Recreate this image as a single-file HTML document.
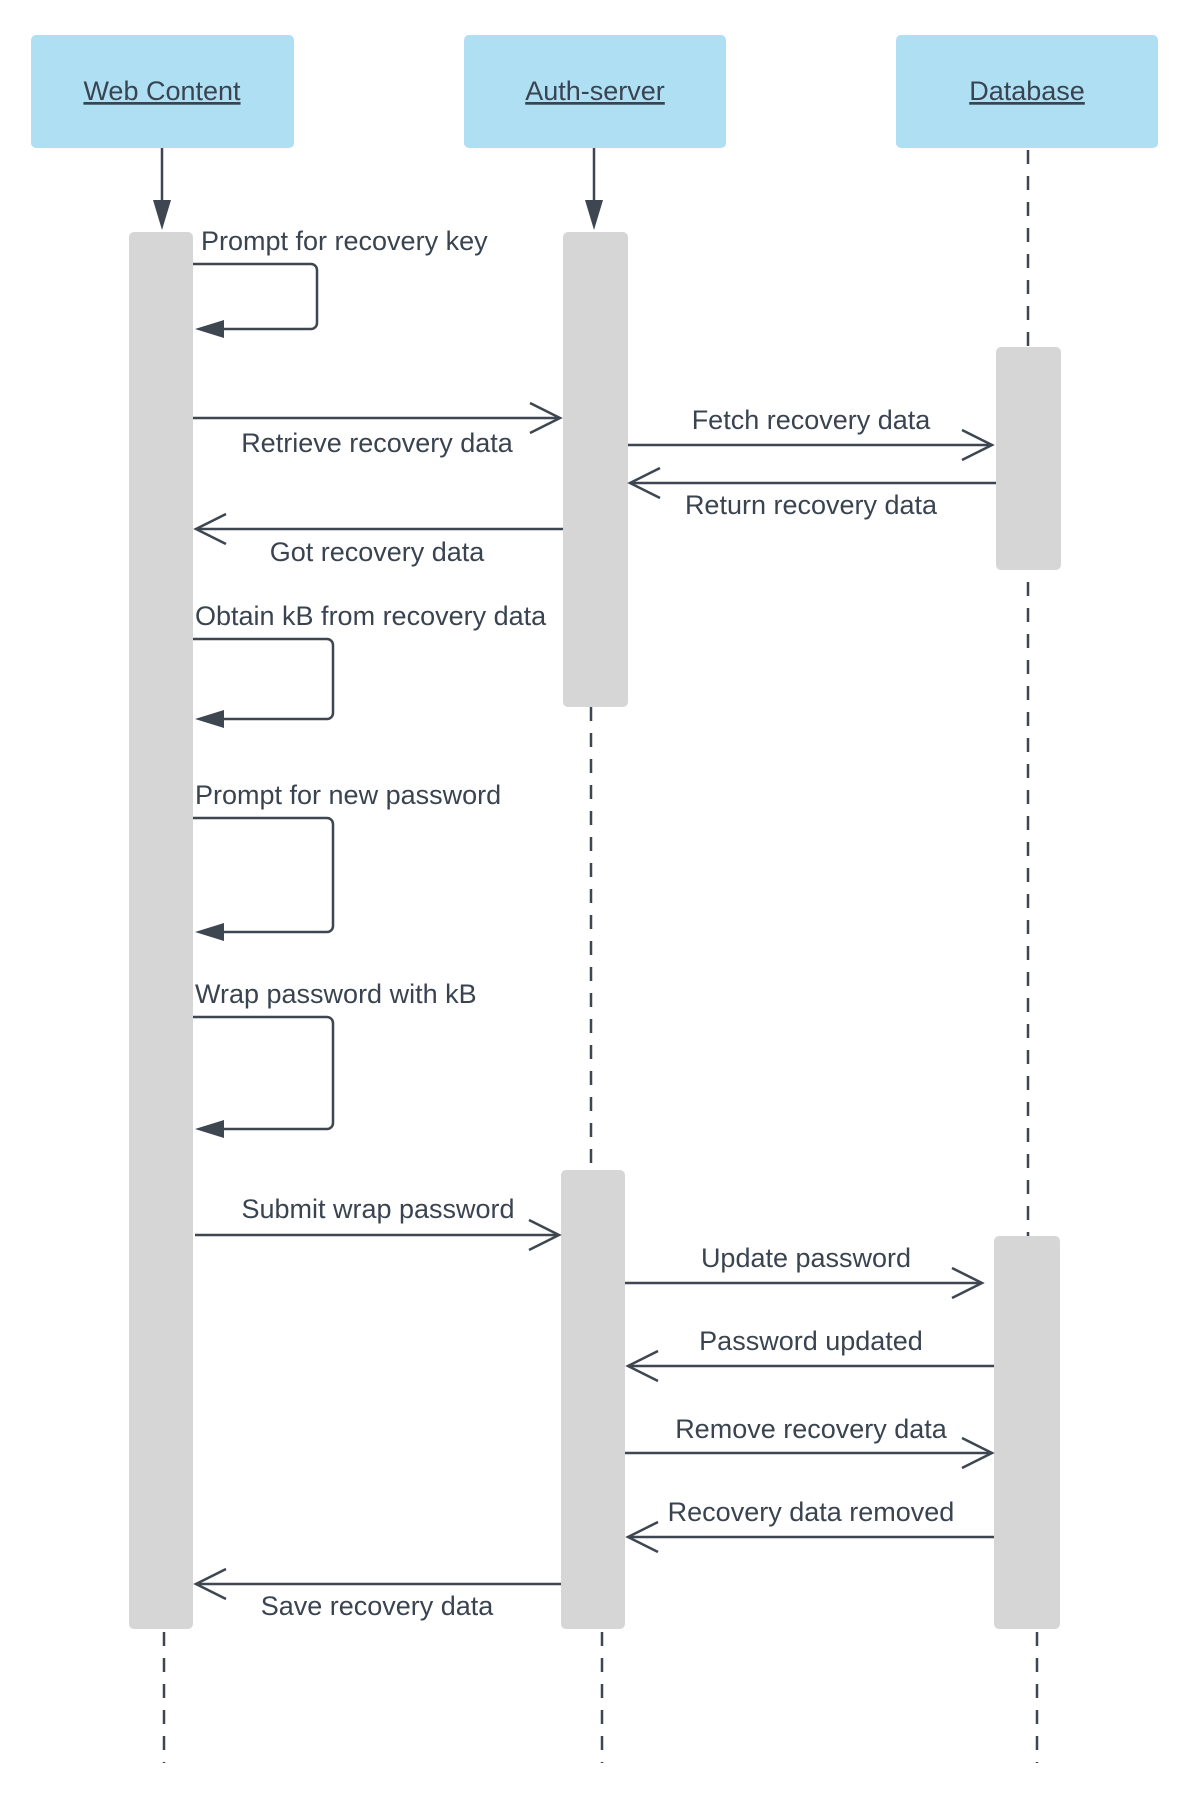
<!DOCTYPE html>
<html><head><meta charset="utf-8"><style>
html,body{margin:0;padding:0;background:#fff;}
svg{display:block;}
text{font-family:"Liberation Sans",sans-serif;font-size:27px;fill:#3a4450;}
</style></head><body>
<svg width="1190" height="1806" viewBox="0 0 1190 1806" xmlns="http://www.w3.org/2000/svg">
<g fill="#aedff2">
<rect x="31" y="35" width="263" height="113" rx="5"/>
<rect x="464" y="35" width="262" height="113" rx="5"/>
<rect x="896" y="35" width="262" height="113" rx="5"/>
</g>
<g text-anchor="middle">
<text x="162" y="100" text-decoration="underline">Web Content</text>
<text x="595" y="100" text-decoration="underline">Auth-server</text>
<text x="1027" y="100" text-decoration="underline">Database</text>
</g>
<g stroke="#3d4651" stroke-width="2.5" fill="none">
<line x1="162" y1="148" x2="162" y2="205"/>
<line x1="594" y1="148" x2="594" y2="205"/>
</g>
<g fill="#3d4651">
<polygon points="153,200 171,200 162,230"/>
<polygon points="585,200 603,200 594,230"/>
</g>
<g stroke="#3d4651" stroke-width="2.5" stroke-dasharray="14,12" fill="none">
<line x1="1028" y1="150" x2="1028" y2="347"/>
<line x1="1028" y1="582" x2="1028" y2="1236"/>
<line x1="591" y1="707" x2="591" y2="1170"/>
<line x1="164" y1="1632" x2="164" y2="1763"/>
<line x1="602" y1="1632" x2="602" y2="1763"/>
<line x1="1037" y1="1632" x2="1037" y2="1763"/>
</g>
<g fill="#d6d6d6">
<rect x="129" y="232" width="64" height="1397" rx="5"/>
<rect x="563" y="232" width="65" height="475" rx="5"/>
<rect x="561" y="1170" width="64" height="459" rx="5"/>
<rect x="996" y="347" width="65" height="223" rx="5"/>
<rect x="994" y="1236" width="66" height="393" rx="5"/>
</g>
<g stroke="#3d4651" stroke-width="2.5" fill="none">
<path d="M193 264 H311 a6 6 0 0 1 6 6 V323 a6 6 0 0 1 -6 6 H210"/>
<path d="M193 639 H327 a6 6 0 0 1 6 6 V713 a6 6 0 0 1 -6 6 H210"/>
<path d="M193 818 H327 a6 6 0 0 1 6 6 V926 a6 6 0 0 1 -6 6 H210"/>
<path d="M193 1017 H327 a6 6 0 0 1 6 6 V1123 a6 6 0 0 1 -6 6 H210"/>
</g>
<g fill="#3d4651">
<polygon points="195,329 224,320 224,338"/>
<polygon points="195,719 224,710 224,728"/>
<polygon points="195,932 224,923 224,941"/>
<polygon points="195,1129 224,1120 224,1138"/>
</g>
<g stroke="#3d4651" stroke-width="2.5" fill="none">
<line x1="193" y1="418" x2="560" y2="418"/><polyline points="530,403 560,418 530,433"/>
<line x1="628" y1="445" x2="992" y2="445"/><polyline points="962,430 992,445 962,460"/>
<line x1="996" y1="483" x2="630" y2="483"/><polyline points="660,468 630,483 660,498"/>
<line x1="563" y1="529" x2="196" y2="529"/><polyline points="226,514 196,529 226,544"/>
<line x1="195" y1="1235" x2="559" y2="1235"/><polyline points="529,1220 559,1235 529,1250"/>
<line x1="625" y1="1283" x2="982" y2="1283"/><polyline points="952,1268 982,1283 952,1298"/>
<line x1="994" y1="1366" x2="628" y2="1366"/><polyline points="658,1351 628,1366 658,1381"/>
<line x1="625" y1="1453" x2="992" y2="1453"/><polyline points="962,1438 992,1453 962,1468"/>
<line x1="994" y1="1537" x2="628" y2="1537"/><polyline points="658,1522 628,1537 658,1552"/>
<line x1="561" y1="1584" x2="196" y2="1584"/><polyline points="226,1569 196,1584 226,1599"/>
</g>
<text x="201" y="250">Prompt for recovery key</text>
<text x="195" y="625">Obtain kB from recovery data</text>
<text x="195" y="804">Prompt for new password</text>
<text x="195" y="1003">Wrap password with kB</text>
<g text-anchor="middle">
<text x="377" y="452">Retrieve recovery data</text>
<text x="811" y="429">Fetch recovery data</text>
<text x="811" y="514">Return recovery data</text>
<text x="377" y="561">Got recovery data</text>
<text x="378" y="1218">Submit wrap password</text>
<text x="806" y="1267">Update password</text>
<text x="811" y="1350">Password updated</text>
<text x="811" y="1438">Remove recovery data</text>
<text x="811" y="1521">Recovery data removed</text>
<text x="377" y="1615">Save recovery data</text>
</g>
</svg>
</body></html>
